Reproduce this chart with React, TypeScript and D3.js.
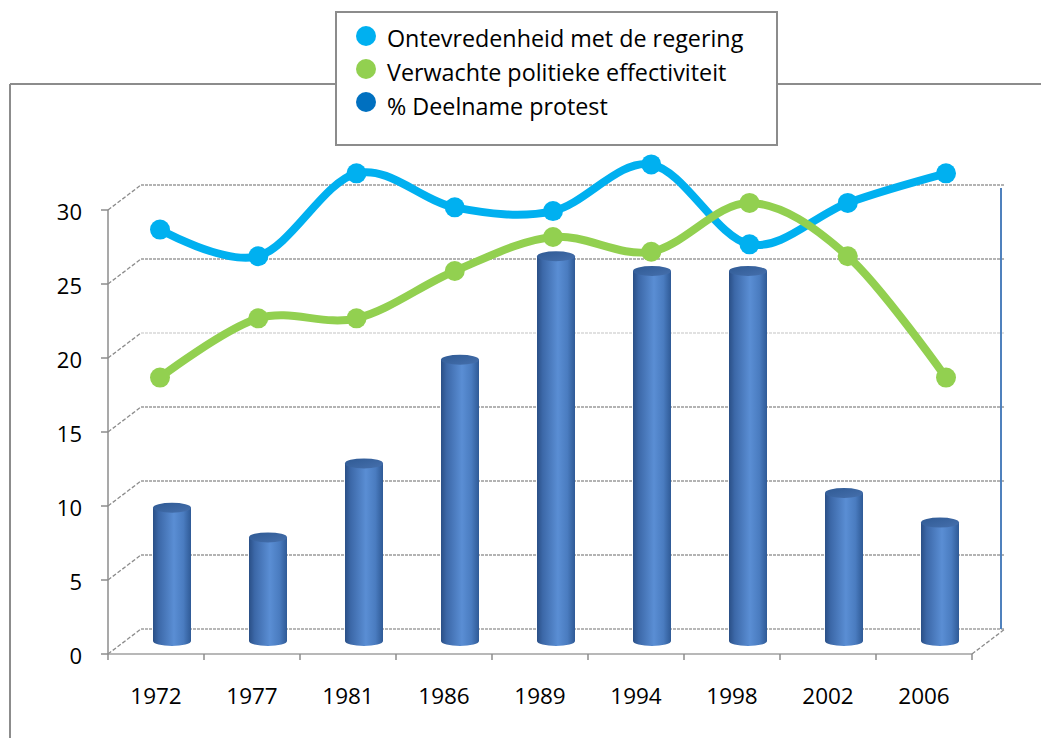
import React from "react";
import * as d3 from "d3";

const years = ["1972", "1977", "1981", "1986", "1989", "1994", "1998", "2002", "2006"];
const protest = [9, 7, 12, 19, 26, 25, 25, 10, 8];
const ontevredenheid = [27.8, 26.0, 31.6, 29.3, 29.05, 32.2, 26.8, 29.6, 31.6];
const effectiviteit = [17.8, 21.8, 21.8, 25.0, 27.3, 26.3, 29.6, 26.0, 17.8];
const yTicks = [0, 5, 10, 15, 20, 25, 30];
const legendItems = [
  { label: "Ontevredenheid met de regering", color: "#00B0F0" },
  { label: "Verwachte politieke effectiviteit", color: "#92D050" },
  { label: "% Deelname protest", color: "#0070C0" },
];

const W = 1041;
const H = 738;
const FONT = "'Open Sans', 'Noto Sans', sans-serif";

export default function App() {
  const x = d3.scaleBand<string>().domain(years).range([108, 972]).paddingInner(0);
  const yFront = d3.scaleLinear().domain([0, 30]).range([654, 210]);
  const DX = 33, DY = -25; // depth offset to back wall
  const MX = 16, MY = -13; // mid depth (cylinders)
  const xLine = d3.scalePoint<string>().domain(years).range([160, 946]);
  const yLine = d3.scaleLinear().domain([0, 30]).range([641, 197]);
  const line = d3
    .line<number>()
    .x((_, i) => xLine(years[i]) as number)
    .y((d) => yLine(d))
    .curve(d3.curveCardinal.tension(0));

  const backLeft = 108 + DX;
  const backRight = 972 + DX;
  const R = 19;
  const RY = 5;

  return (
    <svg width={W} height={H} style={{ position: "absolute", left: 0, top: 0, background: "#fff" }} fontFamily={FONT}>
      <defs>
        <linearGradient id="cyl" x1="0" x2="1" y1="0" y2="0">
          <stop offset="0" stopColor="#2a4f86" />
          <stop offset="0.15" stopColor="#3c68a8" />
          <stop offset="0.55" stopColor="#5a8ed4" />
          <stop offset="0.8" stopColor="#4a7cc0" />
          <stop offset="1" stopColor="#2f5a96" />
        </linearGradient>
        <linearGradient id="cyltop" x1="0" x2="1" y1="0" y2="1">
          <stop offset="0" stopColor="#2f5a94" />
          <stop offset="1" stopColor="#4670ad" />
        </linearGradient>
      </defs>

      {/* outer chart frame */}
      <line x1={10} y1={84} x2={W} y2={84} stroke="#8c8c8c" strokeWidth={2} />
      <line x1={10} y1={84} x2={10} y2={H} stroke="#8c8c8c" strokeWidth={2} />

      {/* back floor */}
      <line x1={backLeft} y1={yFront(0) + DY} x2={backRight} y2={yFront(0) + DY} stroke="#a0a0a0" strokeWidth={1.5} strokeDasharray="3,1" />

      {/* gridlines */}
      {yTicks.map((t) => {
        const yf = yFront(t);
        const light = t === 20;
        const col = light ? "#d8d8d8" : "#9a9a9a";
        return (
          <g key={t}>
            <line x1={108} y1={yf} x2={backLeft} y2={yf + DY} stroke="#8c8c8c" strokeWidth={1.3} strokeDasharray="4,2" />
            {t > 0 && (
              <line x1={backLeft} y1={yf + DY} x2={backRight} y2={yf + DY} stroke={col} strokeWidth={1.5} strokeDasharray="3,1" />
            )}
            <line x1={101} y1={yf} x2={108} y2={yf} stroke="#8c8c8c" strokeWidth={1.5} />
            <text x={82} y={yf + 4} textAnchor="end" dominantBaseline="middle" fontSize={22} fill="#000">
              {t}
            </text>
          </g>
        );
      })}

      {/* right wall edge */}
      <line x1={backRight - 4} y1={188} x2={backRight - 4} y2={yFront(0) + DY} stroke="#4F81BD" strokeWidth={2} />

      {/* floor front and right edges */}
      <line x1={108} y1={yFront(0)} x2={972} y2={yFront(0)} stroke="#a0a0a0" strokeWidth={1.5} />
      <line x1={972} y1={yFront(0)} x2={backRight} y2={yFront(0) + DY} stroke="#8c8c8c" strokeWidth={1.3} strokeDasharray="4,2" />
      <line x1={108} y1={yFront(0)} x2={108} y2={yFront(30)} stroke="#8c8c8c" strokeWidth={1.5} />

      {/* x ticks */}
      {years.map((yr, i) => (
        <line key={"t" + yr} x1={108 + x.bandwidth() * (i + 1)} y1={yFront(0)} x2={108 + x.bandwidth() * (i + 1)} y2={yFront(0) + 6} stroke="#8c8c8c" strokeWidth={1.5} />
      ))}
      <line x1={108} y1={yFront(0)} x2={108} y2={yFront(0) + 6} stroke="#8c8c8c" strokeWidth={1.5} />

      {/* cylinders */}
      {years.map((yr, i) => {
        const cx = (x(yr) as number) + x.bandwidth() / 2 + MX;
        const yb = yFront(0) + MY;
        const yt = yFront(protest[i]) + MY;
        const x0 = cx - R, x1 = cx + R;
        return (
          <g key={"c" + yr}>
            <path
              d={`M${x0},${yt} L${x0},${yb} A${R},${RY} 0 0 0 ${x1},${yb} L${x1},${yt} Z`}
              fill="url(#cyl)"
            />
            <ellipse cx={cx} cy={yt} rx={R} ry={RY} fill="url(#cyltop)" />
          </g>
        );
      })}

      {/* x labels */}
      {years.map((yr) => (
        <text key={"l" + yr} x={(x(yr) as number) + x.bandwidth() / 2} y={698} textAnchor="middle" dominantBaseline="middle" fontSize={22.5} fill="#000">
          {yr}
        </text>
      ))}

      {/* lines */}
      <path d={line(ontevredenheid) || ""} fill="none" stroke="#00B0F0" strokeWidth={8} strokeLinejoin="round" />
      <path d={line(effectiviteit) || ""} fill="none" stroke="#92D050" strokeWidth={8} strokeLinejoin="round" />
      {ontevredenheid.map((v, i) => (
        <circle key={"b" + i} cx={xLine(years[i])} cy={yLine(v)} r={10} fill="#00B0F0" />
      ))}
      {effectiviteit.map((v, i) => (
        <circle key={"g" + i} cx={xLine(years[i])} cy={yLine(v)} r={10} fill="#92D050" />
      ))}

      {/* legend */}
      <rect x={336} y={12} width={441} height={133} fill="#fff" stroke="#8c8c8c" strokeWidth={2} />
      {legendItems.map((it, i) => (
        <g key={it.label}>
          <circle cx={366} cy={36 + i * 33} r={10} fill={it.color} />
          <text x={387} y={41 + i * 34} dominantBaseline="middle" fontSize={23.3} fill="#000">
            {it.label}
          </text>
        </g>
      ))}
    </svg>
  );
}
